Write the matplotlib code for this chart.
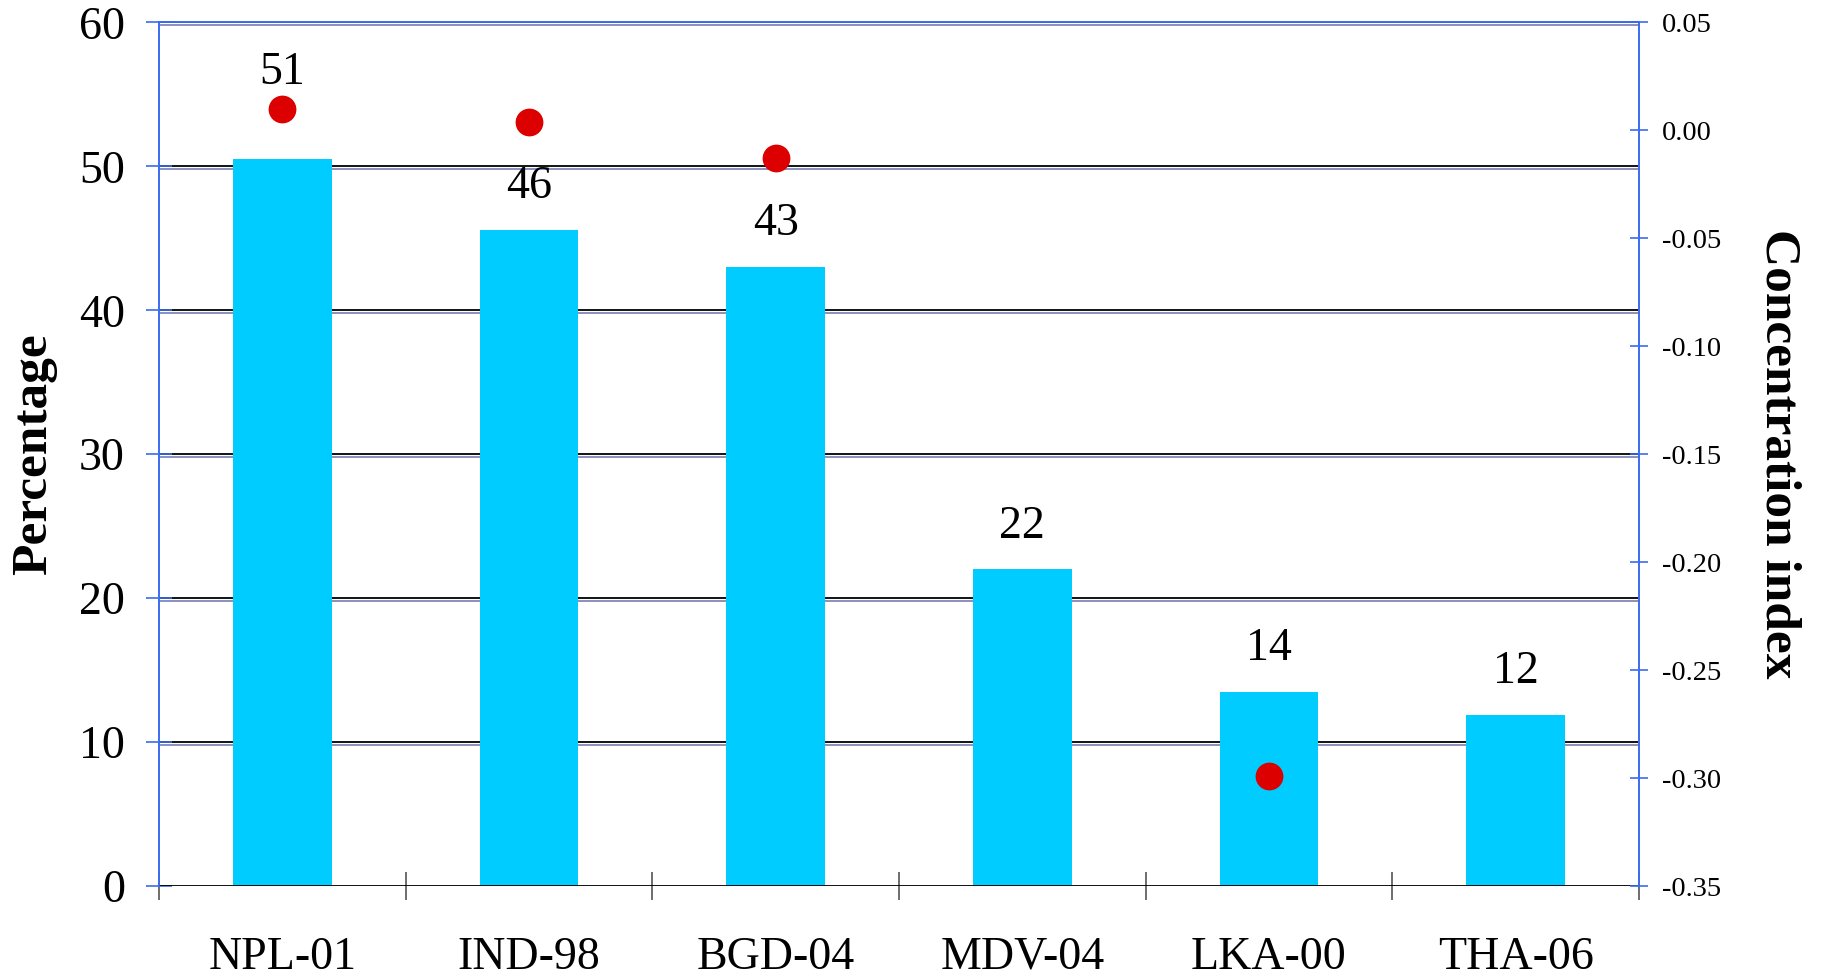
import numpy as np
import matplotlib
matplotlib.use("Agg")
import matplotlib.pyplot as plt
import matplotlib.patheffects as pe
from matplotlib.ticker import FuncFormatter

countries = ["NPL-01", "IND-98", "BGD-04", "MDV-04", "LKA-00", "THA-06"]
percent = [50.5, 45.6, 43.0, 22.0, 13.5, 11.9]
percent_labels = ["51", "46", "43", "22", "14", "12"]
conc_index = [0.010, 0.004, -0.013, np.nan, -0.299, np.nan]

# label offsets above the bar top (points)
label_offsets = [62, 31, 31, 31, 31, 31]

plt.rcParams['font.family'] = ['Liberation Serif', 'DejaVu Serif']

fig = plt.figure(figsize=(18.3, 9.74), dpi=100)
ax = fig.add_axes([0.0869, 0.0903, 0.8087, 0.8867])
ax2 = ax.twinx()

x = np.arange(len(countries))
blue = '#3B6BF0'
shadow = [pe.SimpleLineShadow(offset=(0, -2.2), shadow_color='#8088B8', alpha=1.0, rho=1),
          pe.Normal()]

# gridlines (black with a bluish shadow underneath)
for yv in [10, 20, 30, 40, 50, 60]:
    ax.axhline(yv, color='black', lw=1.3, zorder=1, path_effects=shadow)
ax.axhline(0, color='black', lw=1.3, zorder=3, path_effects=shadow)

ax.bar(x, percent, width=0.4, color='#00CCFF', zorder=2)
for xi, h, lab, off in zip(x, percent, percent_labels, label_offsets):
    ax.annotate(lab, (xi, h), xytext=(0, off), textcoords='offset points',
                ha='center', va='center', fontsize=33)

ax.set_xlim(-0.5, len(countries) - 0.5)
ax.set_ylim(0, 60)
ax.set_yticks(range(0, 61, 10))
ax.tick_params(axis='y', direction='inout', length=19, width=1.2, color=blue,
               labelsize=33, pad=15)
ax.set_xticks(x)
ax.set_xticklabels(countries)
ax.tick_params(axis='x', which='major', length=0, labelsize=33, pad=36)
ax.set_xticks(np.arange(len(countries) + 1) - 0.5, minor=True)
ax.tick_params(axis='x', which='minor', direction='inout', length=20, width=1.2, color='#555555')

ax.set_ylabel("Percentage", fontsize=37, fontweight='bold', labelpad=16)

ax2.plot(x, conc_index, 'o', color='#DD0000', markersize=19, zorder=5)
ax2.set_ylim(-0.35, 0.05)
ax2.set_yticks(np.arange(-0.35, 0.051, 0.05))
ax2.yaxis.set_major_formatter(FuncFormatter(lambda v, p: f"{v:.2f}".replace("-0.00", "0.00")))
ax2.tick_params(axis='y', direction='inout', length=12.5, width=1.2, color=blue,
                labelsize=20.5, pad=10)
ax2.set_ylabel("Concentration index", fontsize=37, fontweight='bold',
               rotation=-90, labelpad=58)

for a in (ax, ax2):
    a.spines['left'].set_color(blue)
    a.spines['right'].set_color(blue)
    a.spines['top'].set_color(blue)
    a.spines['bottom'].set_visible(False)
    for s in ('left', 'right', 'top'):
        a.spines[s].set_linewidth(1.2)

fig.savefig("out.png", dpi=100)
